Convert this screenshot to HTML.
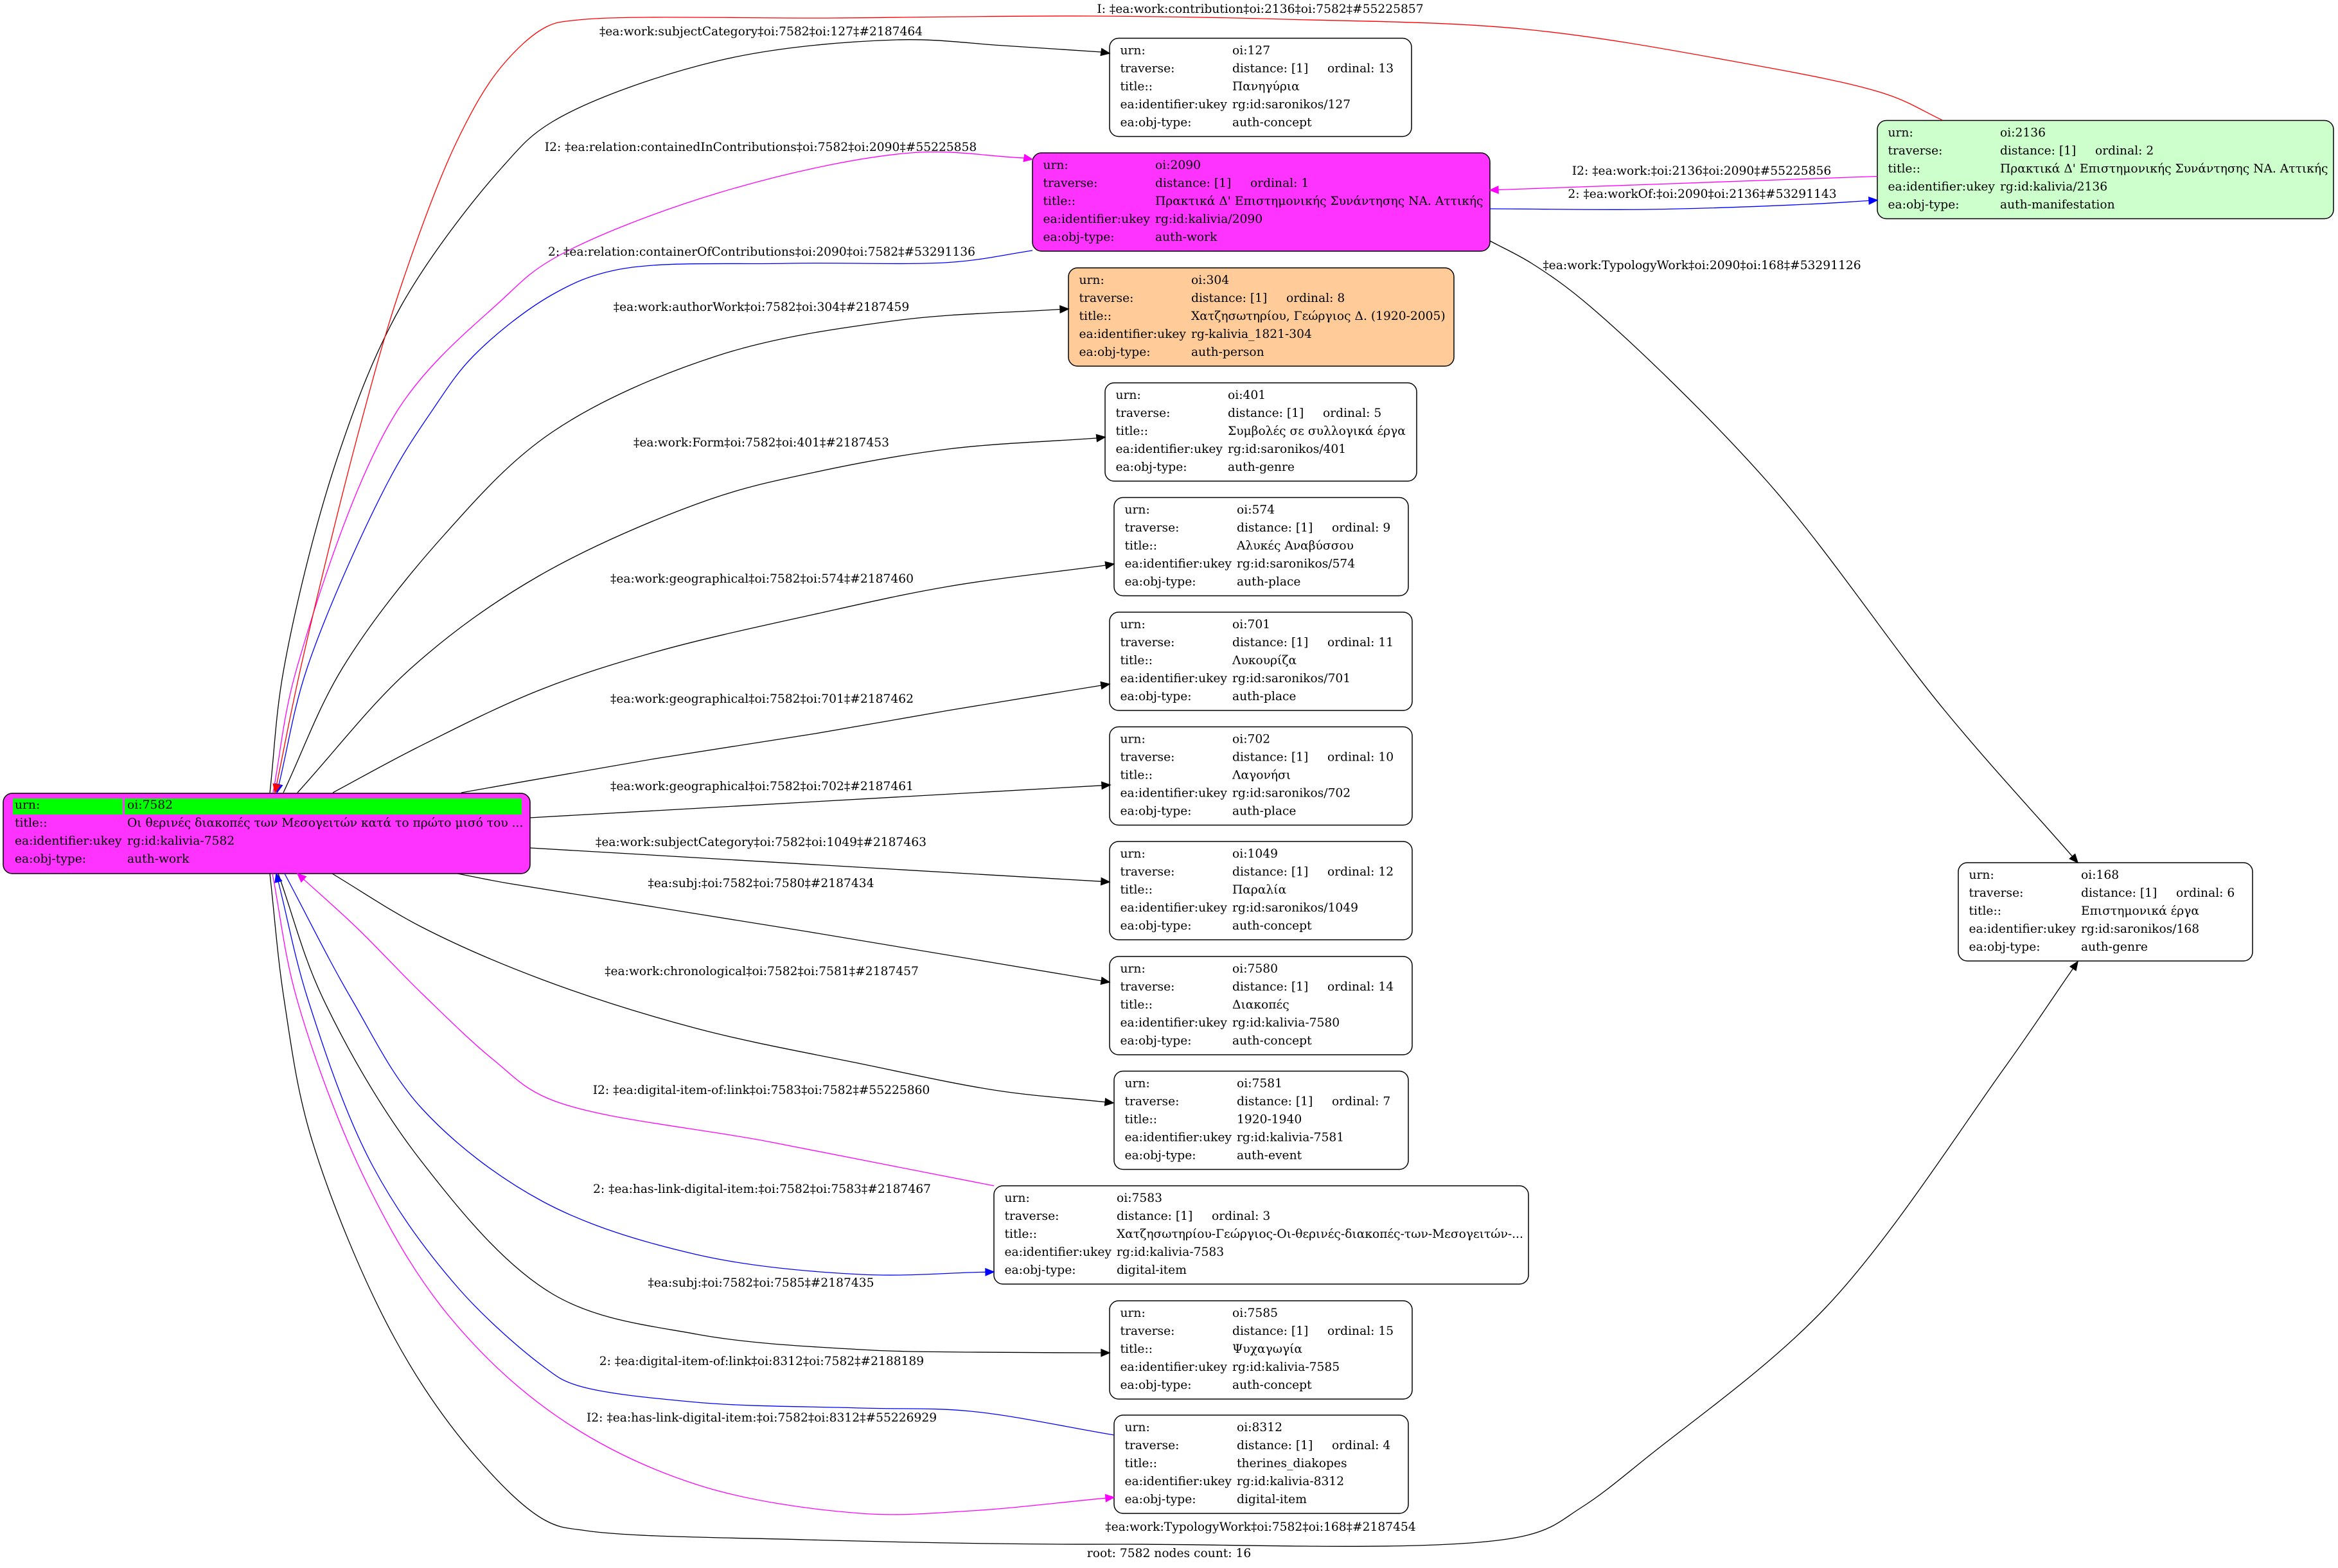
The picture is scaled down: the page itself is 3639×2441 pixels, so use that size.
<!DOCTYPE html>
<html>
<head>
<meta charset="utf-8">
<style>
html,body{margin:0;padding:0;background:#fff;}
svg{display:block;}
text{font-family:"DejaVu Serif","Liberation Serif","Noto Serif CJK SC",serif;font-size:18.67px;fill:#000;}
.lbl{text-anchor:middle;}
.e{fill:none;stroke-width:1.3;}
.n{stroke:#000;stroke-width:1.5;}
</style>
</head>
<body>
<svg xmlns="http://www.w3.org/2000/svg" width="3639" height="2441" viewBox="0 0 3639 2441">
<rect x="0" y="0" width="3639" height="2441" fill="#fff"/>

<!-- ===== NODES ===== -->
<!-- root 7582 -->
<rect class="n" x="5" y="1235" width="820" height="125" rx="14" fill="#ff33ff"/>
<rect x="20" y="1243" width="171" height="25" fill="#00ff00"/>
<rect x="194" y="1243" width="618" height="25" fill="#00ff00"/>
<text><tspan x="23" y="1259">urn:</tspan><tspan x="198" y="1259">oi:7582</tspan>
<tspan x="23" y="1287">title::</tspan><tspan x="198" y="1287">Οι θερινές διακοπές των Μεσογειτών κατά το πρώτο μισό του ...</tspan>
<tspan x="23" y="1315">ea:identifier:ukey</tspan><tspan x="198" y="1315">rg:id:kalivia-7582</tspan>
<tspan x="23" y="1343">ea:obj-type:</tspan><tspan x="198" y="1343">auth-work</tspan></text>

<!-- 127 -->
<rect class="n" x="1727" y="59.5" width="470" height="153" rx="14" fill="#fff"/>
<text><tspan x="1743.5" y="84.5">urn:</tspan><tspan x="1918" y="84.5">oi:127</tspan>
<tspan x="1743.5" y="112.5">traverse:</tspan><tspan x="1918" y="112.5">distance: [1]</tspan><tspan x="2066" y="112.5">ordinal: 13</tspan>
<tspan x="1743.5" y="140.5">title::</tspan><tspan x="1918" y="140.5">Πανηγύρια</tspan>
<tspan x="1743.5" y="168.5">ea:identifier:ukey</tspan><tspan x="1918" y="168.5">rg:id:saronikos/127</tspan>
<tspan x="1743.5" y="196.5">ea:obj-type:</tspan><tspan x="1918" y="196.5">auth-concept</tspan></text>

<!-- 2090 -->
<rect class="n" x="1607" y="238" width="712" height="153" rx="14" fill="#ff33ff"/>
<text><tspan x="1623.5" y="263">urn:</tspan><tspan x="1798" y="263">oi:2090</tspan>
<tspan x="1623.5" y="291">traverse:</tspan><tspan x="1798" y="291">distance: [1]</tspan><tspan x="1946" y="291">ordinal: 1</tspan>
<tspan x="1623.5" y="319">title::</tspan><tspan x="1798" y="319">Πρακτικά Δ' Επιστημονικής Συνάντησης ΝΑ. Αττικής</tspan>
<tspan x="1623.5" y="347">ea:identifier:ukey</tspan><tspan x="1798" y="347">rg:id:kalivia/2090</tspan>
<tspan x="1623.5" y="375">ea:obj-type:</tspan><tspan x="1798" y="375">auth-work</tspan></text>

<!-- 304 -->
<rect class="n" x="1663" y="417" width="600" height="153" rx="14" fill="#ffcc99"/>
<text><tspan x="1679.5" y="442">urn:</tspan><tspan x="1854" y="442">oi:304</tspan>
<tspan x="1679.5" y="470">traverse:</tspan><tspan x="1854" y="470">distance: [1]</tspan><tspan x="2002" y="470">ordinal: 8</tspan>
<tspan x="1679.5" y="498">title::</tspan><tspan x="1854" y="498">Χατζησωτηρίου, Γεώργιος Δ. (1920-2005)</tspan>
<tspan x="1679.5" y="526">ea:identifier:ukey</tspan><tspan x="1854" y="526">rg-kalivia_1821-304</tspan>
<tspan x="1679.5" y="554">ea:obj-type:</tspan><tspan x="1854" y="554">auth-person</tspan></text>

<!-- 401 -->
<rect class="n" x="1720" y="596" width="485" height="153" rx="14" fill="#fff"/>
<text><tspan x="1736.5" y="621">urn:</tspan><tspan x="1911" y="621">oi:401</tspan>
<tspan x="1736.5" y="649">traverse:</tspan><tspan x="1911" y="649">distance: [1]</tspan><tspan x="2059" y="649">ordinal: 5</tspan>
<tspan x="1736.5" y="677">title::</tspan><tspan x="1911" y="677">Συμβολές σε συλλογικά έργα</tspan>
<tspan x="1736.5" y="705">ea:identifier:ukey</tspan><tspan x="1911" y="705">rg:id:saronikos/401</tspan>
<tspan x="1736.5" y="733">ea:obj-type:</tspan><tspan x="1911" y="733">auth-genre</tspan></text>

<!-- 574 -->
<rect class="n" x="1734" y="774.5" width="458" height="153" rx="14" fill="#fff"/>
<text><tspan x="1750.5" y="799.5">urn:</tspan><tspan x="1925" y="799.5">oi:574</tspan>
<tspan x="1750.5" y="827.5">traverse:</tspan><tspan x="1925" y="827.5">distance: [1]</tspan><tspan x="2073" y="827.5">ordinal: 9</tspan>
<tspan x="1750.5" y="855.5">title::</tspan><tspan x="1925" y="855.5">Αλυκές Αναβύσσου</tspan>
<tspan x="1750.5" y="883.5">ea:identifier:ukey</tspan><tspan x="1925" y="883.5">rg:id:saronikos/574</tspan>
<tspan x="1750.5" y="911.5">ea:obj-type:</tspan><tspan x="1925" y="911.5">auth-place</tspan></text>

<!-- 701 -->
<rect class="n" x="1727" y="953" width="471" height="153" rx="14" fill="#fff"/>
<text><tspan x="1743.5" y="978">urn:</tspan><tspan x="1918" y="978">oi:701</tspan>
<tspan x="1743.5" y="1006">traverse:</tspan><tspan x="1918" y="1006">distance: [1]</tspan><tspan x="2066" y="1006">ordinal: 11</tspan>
<tspan x="1743.5" y="1034">title::</tspan><tspan x="1918" y="1034">Λυκουρίζα</tspan>
<tspan x="1743.5" y="1062">ea:identifier:ukey</tspan><tspan x="1918" y="1062">rg:id:saronikos/701</tspan>
<tspan x="1743.5" y="1090">ea:obj-type:</tspan><tspan x="1918" y="1090">auth-place</tspan></text>

<!-- 702 -->
<rect class="n" x="1727" y="1131.5" width="471" height="153" rx="14" fill="#fff"/>
<text><tspan x="1743.5" y="1156.5">urn:</tspan><tspan x="1918" y="1156.5">oi:702</tspan>
<tspan x="1743.5" y="1184.5">traverse:</tspan><tspan x="1918" y="1184.5">distance: [1]</tspan><tspan x="2066" y="1184.5">ordinal: 10</tspan>
<tspan x="1743.5" y="1212.5">title::</tspan><tspan x="1918" y="1212.5">Λαγονήσι</tspan>
<tspan x="1743.5" y="1240.5">ea:identifier:ukey</tspan><tspan x="1918" y="1240.5">rg:id:saronikos/702</tspan>
<tspan x="1743.5" y="1268.5">ea:obj-type:</tspan><tspan x="1918" y="1268.5">auth-place</tspan></text>

<!-- 1049 -->
<rect class="n" x="1727" y="1310" width="471" height="153" rx="14" fill="#fff"/>
<text><tspan x="1743.5" y="1335">urn:</tspan><tspan x="1918" y="1335">oi:1049</tspan>
<tspan x="1743.5" y="1363">traverse:</tspan><tspan x="1918" y="1363">distance: [1]</tspan><tspan x="2066" y="1363">ordinal: 12</tspan>
<tspan x="1743.5" y="1391">title::</tspan><tspan x="1918" y="1391">Παραλία</tspan>
<tspan x="1743.5" y="1419">ea:identifier:ukey</tspan><tspan x="1918" y="1419">rg:id:saronikos/1049</tspan>
<tspan x="1743.5" y="1447">ea:obj-type:</tspan><tspan x="1918" y="1447">auth-concept</tspan></text>

<!-- 7580 -->
<rect class="n" x="1727" y="1489" width="471" height="153" rx="14" fill="#fff"/>
<text><tspan x="1743.5" y="1514">urn:</tspan><tspan x="1918" y="1514">oi:7580</tspan>
<tspan x="1743.5" y="1542">traverse:</tspan><tspan x="1918" y="1542">distance: [1]</tspan><tspan x="2066" y="1542">ordinal: 14</tspan>
<tspan x="1743.5" y="1570">title::</tspan><tspan x="1918" y="1570">Διακοπές</tspan>
<tspan x="1743.5" y="1598">ea:identifier:ukey</tspan><tspan x="1918" y="1598">rg:id:kalivia-7580</tspan>
<tspan x="1743.5" y="1626">ea:obj-type:</tspan><tspan x="1918" y="1626">auth-concept</tspan></text>

<!-- 7581 -->
<rect class="n" x="1734" y="1667.5" width="458" height="153" rx="14" fill="#fff"/>
<text><tspan x="1750.5" y="1692.5">urn:</tspan><tspan x="1925" y="1692.5">oi:7581</tspan>
<tspan x="1750.5" y="1720.5">traverse:</tspan><tspan x="1925" y="1720.5">distance: [1]</tspan><tspan x="2073" y="1720.5">ordinal: 7</tspan>
<tspan x="1750.5" y="1748.5">title::</tspan><tspan x="1925" y="1748.5">1920-1940</tspan>
<tspan x="1750.5" y="1776.5">ea:identifier:ukey</tspan><tspan x="1925" y="1776.5">rg:id:kalivia-7581</tspan>
<tspan x="1750.5" y="1804.5">ea:obj-type:</tspan><tspan x="1925" y="1804.5">auth-event</tspan></text>

<!-- 7583 -->
<rect class="n" x="1547" y="1846" width="832" height="153" rx="14" fill="#fff"/>
<text><tspan x="1563.5" y="1871">urn:</tspan><tspan x="1738" y="1871">oi:7583</tspan>
<tspan x="1563.5" y="1899">traverse:</tspan><tspan x="1738" y="1899">distance: [1]</tspan><tspan x="1886" y="1899">ordinal: 3</tspan>
<tspan x="1563.5" y="1927">title::</tspan><tspan x="1738" y="1927">Χατζησωτηρίου-Γεώργιος-Οι-θερινές-διακοπές-των-Μεσογειτών-...</tspan>
<tspan x="1563.5" y="1955">ea:identifier:ukey</tspan><tspan x="1738" y="1955">rg:id:kalivia-7583</tspan>
<tspan x="1563.5" y="1983">ea:obj-type:</tspan><tspan x="1738" y="1983">digital-item</tspan></text>

<!-- 7585 -->
<rect class="n" x="1727" y="2025" width="471" height="153" rx="14" fill="#fff"/>
<text><tspan x="1743.5" y="2050">urn:</tspan><tspan x="1918" y="2050">oi:7585</tspan>
<tspan x="1743.5" y="2078">traverse:</tspan><tspan x="1918" y="2078">distance: [1]</tspan><tspan x="2066" y="2078">ordinal: 15</tspan>
<tspan x="1743.5" y="2106">title::</tspan><tspan x="1918" y="2106">Ψυχαγωγία</tspan>
<tspan x="1743.5" y="2134">ea:identifier:ukey</tspan><tspan x="1918" y="2134">rg:id:kalivia-7585</tspan>
<tspan x="1743.5" y="2162">ea:obj-type:</tspan><tspan x="1918" y="2162">auth-concept</tspan></text>

<!-- 8312 -->
<rect class="n" x="1734" y="2203" width="458" height="153" rx="14" fill="#fff"/>
<text><tspan x="1750.5" y="2228">urn:</tspan><tspan x="1925" y="2228">oi:8312</tspan>
<tspan x="1750.5" y="2256">traverse:</tspan><tspan x="1925" y="2256">distance: [1]</tspan><tspan x="2073" y="2256">ordinal: 4</tspan>
<tspan x="1750.5" y="2284">title::</tspan><tspan x="1925" y="2284">therines_diakopes</tspan>
<tspan x="1750.5" y="2312">ea:identifier:ukey</tspan><tspan x="1925" y="2312">rg:id:kalivia-8312</tspan>
<tspan x="1750.5" y="2340">ea:obj-type:</tspan><tspan x="1925" y="2340">digital-item</tspan></text>

<!-- 2136 -->
<rect class="n" x="2922" y="187.5" width="710" height="153" rx="14" fill="#ccffcc"/>
<text><tspan x="2938.5" y="212.5">urn:</tspan><tspan x="3113" y="212.5">oi:2136</tspan>
<tspan x="2938.5" y="240.5">traverse:</tspan><tspan x="3113" y="240.5">distance: [1]</tspan><tspan x="3261" y="240.5">ordinal: 2</tspan>
<tspan x="2938.5" y="268.5">title::</tspan><tspan x="3113" y="268.5">Πρακτικά Δ' Επιστημονικής Συνάντησης ΝΑ. Αττικής</tspan>
<tspan x="2938.5" y="296.5">ea:identifier:ukey</tspan><tspan x="3113" y="296.5">rg:id:kalivia/2136</tspan>
<tspan x="2938.5" y="324.5">ea:obj-type:</tspan><tspan x="3113" y="324.5">auth-manifestation</tspan></text>

<!-- 168 -->
<rect class="n" x="3048" y="1343" width="458" height="153" rx="14" fill="#fff"/>
<text><tspan x="3064.5" y="1368">urn:</tspan><tspan x="3239" y="1368">oi:168</tspan>
<tspan x="3064.5" y="1396">traverse:</tspan><tspan x="3239" y="1396">distance: [1]</tspan><tspan x="3387" y="1396">ordinal: 6</tspan>
<tspan x="3064.5" y="1424">title::</tspan><tspan x="3239" y="1424">Επιστημονικά έργα</tspan>
<tspan x="3064.5" y="1452">ea:identifier:ukey</tspan><tspan x="3239" y="1452">rg:id:saronikos/168</tspan>
<tspan x="3064.5" y="1480">ea:obj-type:</tspan><tspan x="3239" y="1480">auth-genre</tspan></text>

<!-- ===== EDGES ===== -->
<g id="edges">
<!-- 7582 -> 127 -->
<path class="e s" stroke="#000" d="M420,1234 L442,1040 L525,713 L625,475 L781,261 L859,190 L1116,95 L1395,62 L1562,71 L1714,81"/>
<!-- 7582 -> 2090 magenta -->
<path class="e s" stroke="#ff00ff" d="M425,1234 L462,1040 L618,640 L781,467 L859,404 L1116,301 L1417,238 L1594,246"/>
<!-- 2090 -> 7582 blue -->
<path class="e s" stroke="#0000ff" d="M1607,390 L1484,408 L1228,410 L960,420 L859,459 L737,554 L672,640 L603,752 L478,1040 L434.1,1221.4"/>
<!-- 2136 -> 7582 red -->
<path class="e s" stroke="#ff0000" d="M3023,187 L2937,147 L2690,94 L2368,45 L2000,30 L1700,25 L1300,28 L900,31 L850,42 L781,103 L714,214 L625,443 L558,673 L468,1040 L430.6,1221.3"/>
<!-- 7582 -> 304 -->
<path class="e s" stroke="#000" d="M441,1234 L533,1040 L692,832 L859,673 L1116,554 L1395,499 L1650,481.5"/>
<!-- 7582 -> 401 -->
<path class="e s" stroke="#000" d="M463,1234 L640,1040 L838,897 L1103,778 L1269,735 L1476,699 L1707,682"/>
<!-- 7582 -> 574 -->
<path class="e s" stroke="#000" d="M518,1234 L647,1165 L838,1075 L1020,1015 L1269,956 L1476,913 L1721,880"/>
<!-- 7582 -> 701 -->
<path class="e s" stroke="#000" d="M718,1234 L1020,1181 L1269,1142 L1476,1106 L1714,1067"/>
<!-- 7582 -> 702 -->
<path class="e" stroke="#000" d="M825,1273 L1715,1222.8"/>
<!-- 7582 -> 1049 -->
<path class="e" stroke="#000" d="M825,1320 L1714,1372.2"/>
<!-- 7582 -> 7580 -->
<path class="e s" stroke="#000" d="M712,1360 L790,1375 L1255,1450 L1714.2,1526.9"/>
<!-- 7582 -> 7581 -->
<path class="e s" stroke="#000" d="M517,1360 L656,1443 L844,1525 L1084,1601 L1340,1656 L1554,1698 L1720.1,1715.6"/>
<!-- 7583 -> 7582 magenta -->
<path class="e s" stroke="#ff00ff" d="M1547,1846 L1200,1778 L853,1710 L767,1649 L656,1546 L554,1443 L472.6,1368.8"/>
<!-- 7582 -> 7583 blue -->
<path class="e s" stroke="#0000ff" d="M443,1360 L547,1555 L656,1725 L844,1870 L1084,1953 L1340,1984 L1534,1980.3"/>
<!-- 7582 -> 7585 -->
<path class="e s" stroke="#000" d="M433,1360 L503,1555 L656,1808 L861,2015 L1084,2077 L1340,2101 L1511,2105 L1714,2106"/>
<!-- 8312 -> 7582 blue -->
<path class="e s" stroke="#0000ff" d="M1734,2234 L1511,2197 L1340,2192 L1084,2183 L893,2155 L848,2129 L714,2006 L580,1815 L479,1555 L433.2,1372.6"/>
<!-- 7582 -> 8312 magenta -->
<path class="e s" stroke="#ff00ff" d="M424,1360 L462,1555 L571,1842 L699,2049 L870,2207 L1084,2311 L1340,2356 L1511,2352 L1721,2332.2"/>
<!-- 7582 -> 168 TypologyWork -->
<path class="e s" stroke="#000" d="M420,1360 L442,1555 L485,1773 L614,2083 L742,2269 L849,2367 L913,2383 L1255,2397 L1740,2404 L2377,2390 L2461,2347 L2567,2266 L2843,2034 L3118,1665 L3226.6,1507.7"/>
<!-- 2090 -> 168 -->
<path class="e s" stroke="#000" d="M2319,375 L2384,410 L2475,477 L2751,750 L3026,1105 L3225.5,1333.2"/>
<!-- 2136 -> 2090 magenta -->
<path class="e" stroke="#ff00ff" d="M2922,274.5 L2332,295.5"/>
<!-- 2090 -> 2136 blue -->
<path class="e s" stroke="#0000ff" d="M2319,325 L2566,326 L2813,318 L2909,312.4"/>
</g>

<!-- ===== ARROWHEADS ===== -->
<g stroke-width="1.3">
<polygon points="1727,83 1713.2,86.4 1714.8,75.6" fill="#000" stroke="#000"/>
<polygon points="1607,248 1593.2,251.4 1594.8,240.6" fill="#ff00ff" stroke="#ff00ff"/>
<polygon points="431,1234 428.8,1220.1 439.4,1222.7" fill="#0000ff" stroke="#0000ff"/>
<polygon points="428,1234 425.2,1220.2 436,1222.4" fill="#ff0000" stroke="#ff0000"/>
<polygon points="1663,481 1650.2,487 1649.8,476" fill="#000" stroke="#000"/>
<polygon points="1720,680.5 1707.6,687.5 1706.4,676.5" fill="#000" stroke="#000"/>
<polygon points="1734,878 1721.8,885.4 1720.2,874.6" fill="#000" stroke="#000"/>
<polygon points="1727,1065 1714.8,1072.4 1713.2,1061.6" fill="#000" stroke="#000"/>
<polygon points="1728,1222 1715.3,1228.3 1714.7,1217.3" fill="#000" stroke="#000"/>
<polygon points="1727,1373 1713.7,1377.7 1714.3,1366.7" fill="#000" stroke="#000"/>
<polygon points="1727,1529 1713.3,1532.3 1715.1,1521.5" fill="#000" stroke="#000"/>
<polygon points="1733,1717 1719.5,1721.1 1720.7,1710.1" fill="#000" stroke="#000"/>
<polygon points="1547,1980 1534.1,1985.8 1533.9,1974.8" fill="#0000ff" stroke="#0000ff"/>
<polygon points="463,1360 476.3,1364.7 468.9,1372.9" fill="#ff00ff" stroke="#ff00ff"/>
<polygon points="1727,2106 1714,2111.5 1714,2100.5" fill="#000" stroke="#000"/>
<polygon points="430,1360 438.5,1371.3 427.9,1373.9" fill="#0000ff" stroke="#0000ff"/>
<polygon points="1734,2331 1721.5,2337.7 1720.5,2326.7" fill="#ff00ff" stroke="#ff00ff"/>
<polygon points="3234,1497 3231.1,1510.8 3222.1,1504.6" fill="#000" stroke="#000"/>
<polygon points="3234,1343 3221.3,1336.8 3229.7,1329.6" fill="#000" stroke="#000"/>
<polygon points="2319,296 2331.8,290 2332.2,301" fill="#ff00ff" stroke="#ff00ff"/>
<polygon points="2922,311.6 2909.3,317.9 2908.7,306.9" fill="#0000ff" stroke="#0000ff"/>
</g>

<!-- ===== EDGE LABELS ===== -->
<text class="lbl" x="1961.5" y="20">I: ‡ea:work:contribution‡oi:2136‡oi:7582‡#55225857</text>
<text class="lbl" x="1184.5" y="55">‡ea:work:subjectCategory‡oi:7582‡oi:127‡#2187464</text>
<text class="lbl" x="1184" y="235">I2: ‡ea:relation:containedInContributions‡oi:7582‡oi:2090‡#55225858</text>
<text class="lbl" x="1185.5" y="398">2: ‡ea:relation:containerOfContributions‡oi:2090‡oi:7582‡#53291136</text>
<text class="lbl" x="1185" y="484">‡ea:work:authorWork‡oi:7582‡oi:304‡#2187459</text>
<text class="lbl" x="1185" y="695">‡ea:work:Form‡oi:7582‡oi:401‡#2187453</text>
<text class="lbl" x="1186" y="907">‡ea:work:geographical‡oi:7582‡oi:574‡#2187460</text>
<text class="lbl" x="1186" y="1094">‡ea:work:geographical‡oi:7582‡oi:701‡#2187462</text>
<text class="lbl" x="1186" y="1230">‡ea:work:geographical‡oi:7582‡oi:702‡#2187461</text>
<text class="lbl" x="1184.5" y="1317">‡ea:work:subjectCategory‡oi:7582‡oi:1049‡#2187463</text>
<text class="lbl" x="1184.5" y="1381">‡ea:subj:‡oi:7582‡oi:7580‡#2187434</text>
<text class="lbl" x="1185.5" y="1518">‡ea:work:chronological‡oi:7582‡oi:7581‡#2187457</text>
<text class="lbl" x="1185" y="1703">I2: ‡ea:digital-item-of:link‡oi:7583‡oi:7582‡#55225860</text>
<text class="lbl" x="1186" y="1857">2: ‡ea:has-link-digital-item:‡oi:7582‡oi:7583‡#2187467</text>
<text class="lbl" x="1184.5" y="2003">‡ea:subj:‡oi:7582‡oi:7585‡#2187435</text>
<text class="lbl" x="1185.5" y="2125">2: ‡ea:digital-item-of:link‡oi:8312‡oi:7582‡#2188189</text>
<text class="lbl" x="1185.5" y="2213">I2: ‡ea:has-link-digital-item:‡oi:7582‡oi:8312‡#55226929</text>
<text class="lbl" x="1962" y="2383">‡ea:work:TypologyWork‡oi:7582‡oi:168‡#2187454</text>
<text class="lbl" x="1819.5" y="2424">root: 7582 nodes count: 16</text>
<text class="lbl" x="2648.5" y="272">I2: ‡ea:work:‡oi:2136‡oi:2090‡#55225856</text>
<text class="lbl" x="2649.5" y="308">2: ‡ea:workOf:‡oi:2090‡oi:2136‡#53291143</text>
<text class="lbl" x="2649" y="419">‡ea:work:TypologyWork‡oi:2090‡oi:168‡#53291126</text>
</svg>
<script>
(function(){
  var A = 0.5; // centripetal
  function dist(a,b){var dx=a[0]-b[0],dy=a[1]-b[1];return Math.sqrt(dx*dx+dy*dy);}
  var paths = document.querySelectorAll('path.s');
  for (var k = 0; k < paths.length; k++) {
    var p = paths[k];
    var nums = p.getAttribute('d').match(/-?[\d.]+/g).map(Number);
    var pts = [];
    for (var i = 0; i + 1 < nums.length; i += 2) pts.push([nums[i], nums[i+1]]);
    if (pts.length < 3) continue;
    var n = pts.length;
    var first = [2*pts[0][0]-pts[1][0], 2*pts[0][1]-pts[1][1]];
    var last = [2*pts[n-1][0]-pts[n-2][0], 2*pts[n-1][1]-pts[n-2][1]];
    var ext = [first].concat(pts).concat([last]);
    var d = 'M' + pts[0][0] + ',' + pts[0][1];
    for (var j = 1; j < ext.length - 2; j++) {
      var p0 = ext[j-1], p1 = ext[j], p2 = ext[j+1], p3 = ext[j+2];
      var d1 = Math.pow(dist(p0,p1), A), d2 = Math.pow(dist(p1,p2), A), d3 = Math.pow(dist(p2,p3), A);
      var c1 = [0,0], c2 = [0,0];
      for (var q = 0; q < 2; q++) {
        if (d1 < 1e-6) { c1[q] = p1[q] + (p2[q]-p1[q])/3; }
        else {
          c1[q] = (d1*d1*p2[q] - d2*d2*p0[q] + (2*d1*d1 + 3*d1*d2 + d2*d2)*p1[q]) / (3*d1*(d1+d2));
        }
        if (d3 < 1e-6) { c2[q] = p2[q] - (p2[q]-p1[q])/3; }
        else {
          c2[q] = (d3*d3*p1[q] - d2*d2*p3[q] + (2*d3*d3 + 3*d3*d2 + d2*d2)*p2[q]) / (3*d3*(d3+d2));
        }
      }
      d += ' C' + c1[0].toFixed(1) + ',' + c1[1].toFixed(1) + ' ' + c2[0].toFixed(1) + ',' + c2[1].toFixed(1) + ' ' + p2[0] + ',' + p2[1];
    }
    p.setAttribute('d', d);
  }
})();
</script>
</body>
</html>
